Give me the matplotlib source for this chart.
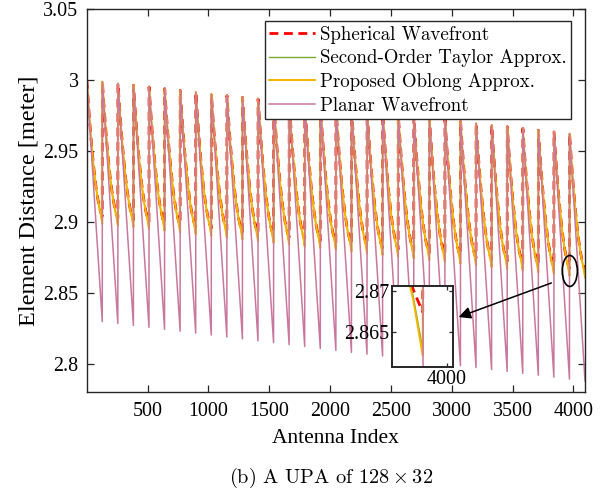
import matplotlib
matplotlib.use("Agg")
import matplotlib.pyplot as plt
from matplotlib.patches import Ellipse, FancyArrowPatch
from matplotlib.ticker import FuncFormatter

# ── Datos ────────────────────────────────────────────────────────────────
N_FILAS = 128      # elementos por columna (un diente de sierra)
N_COLUMNAS = 32

# distancia en el primer elemento de cada columna (picos)
picos = [3.0000, 2.9988, 2.9976, 2.9963, 2.9951, 2.9939, 2.9927, 2.9915,
         2.9902, 2.9890, 2.9878, 2.9866, 2.9854, 2.9841, 2.9829, 2.9817,
         2.9805, 2.9793, 2.9780, 2.9768, 2.9756, 2.9744, 2.9732, 2.9719,
         2.9707, 2.9695, 2.9683, 2.9671, 2.9658, 2.9646, 2.9634, 2.9622]

# distancia esférica en el último elemento de cada columna
valles_esferico = [2.9040, 2.9028, 2.9016, 2.9003, 2.8991, 2.8979, 2.8967, 2.8955,
                   2.8942, 2.8930, 2.8918, 2.8906, 2.8894, 2.8881, 2.8869, 2.8857,
                   2.8845, 2.8833, 2.8820, 2.8808, 2.8796, 2.8784, 2.8772, 2.8759,
                   2.8747, 2.8735, 2.8723, 2.8711, 2.8698, 2.8686, 2.8674, 2.8662]

# frente plano: último elemento de cada columna
valles_planar = [2.8298, 2.8285, 2.8271, 2.8258, 2.8244, 2.8231, 2.8217, 2.8204,
                 2.8190, 2.8177, 2.8163, 2.8150, 2.8136, 2.8123, 2.8109, 2.8096,
                 2.8082, 2.8069, 2.8056, 2.8042, 2.8029, 2.8015, 2.8002, 2.7988,
                 2.7975, 2.7961, 2.7948, 2.7934, 2.7921, 2.7907, 2.7894, 2.7880]

# forma de un diente (posición relativa dentro de la columna y caída relativa)
perfil_t = [0.0, 0.1, 0.2, 0.3, 0.4, 0.5, 0.6, 0.7, 0.8, 0.9, 1.0]
perfil_caida = [0.0, 0.17, 0.324, 0.463, 0.587, 0.696, 0.788, 0.865, 0.926, 0.971, 1.0]

# error de las aproximaciones respecto al frente esférico
desvio_esferico = [0.0] * 11
desvio_taylor = [0, 0, 0, 0, 0, 0, 0.0001, 0.0002, 0.0004, 0.0008, 0.0045]
desvio_oblongo = [0, 0, 0, 0, 0, 0.0001, 0.0002, 0.0003, 0.0006, 0.0012, 0.0053]

# zona ampliada
ZOOM_X = (3927, 4008)
ZOOM_Y = (2.8607, 2.8706)

COLORES = {
    "esferico": "#FF0000",
    "taylor": "#77AC30",
    "oblongo": "#F5B400",
    "planar": "#C9789D",
}


def curva(desvio):
    xs, ys = [], []
    for k in range(N_COLUMNAS):
        ini = k * N_FILAS + 1
        for t, c, d in zip(perfil_t, perfil_caida, desvio):
            xs.append(ini + t * (N_FILAS - 1))
            ys.append(picos[k] + (valles_esferico[k] - picos[k]) * c - d)
    return xs, ys


def curva_planar():
    xs, ys = [], []
    for k in range(N_COLUMNAS):
        ini = k * N_FILAS + 1
        xs += [ini, ini + N_FILAS - 1]
        ys += [picos[k], valles_planar[k]]
    return xs, ys


def dibujar(ax):
    x, y = curva(desvio_esferico)
    l1, = ax.plot(x, y, color=COLORES["esferico"], lw=2.0, dashes=(3.2, 2.0),
                  label="Spherical Wavefront")
    x, y = curva(desvio_taylor)
    l2, = ax.plot(x, y, color=COLORES["taylor"], lw=1.0,
                  label="Second-Order Taylor Approx.")
    x, y = curva(desvio_oblongo)
    l3, = ax.plot(x, y, color=COLORES["oblongo"], lw=1.4,
                  label="Proposed Oblong Approx.")
    x, y = curva_planar()
    l4, = ax.plot(x, y, color=COLORES["planar"], lw=1.1,
                  label="Planar Wavefront")
    return [l1, l2, l3, l4]


def estilo_ejes(ax, size):
    for s in ax.spines.values():
        s.set_color("#262626")
        s.set_linewidth(1.0)
    ax.tick_params(direction="in", top=True, right=True, length=5,
                   width=0.9, color="#262626", labelsize=size)


plt.rcParams["font.family"] = ["Liberation Serif", "DejaVu Serif"]
plt.rcParams["mathtext.fontset"] = "cm"

fig = plt.figure(figsize=(6.07, 4.92), dpi=100)
ax = fig.add_axes([0.143, 0.2025, 0.8208, 0.7792])

lineas = dibujar(ax)
ax.set_xlim(1, 4096)
ax.set_ylim(2.78, 3.05)
ax.set_xticks(range(500, 4001, 500))
ax.set_yticks([2.8, 2.85, 2.9, 2.95, 3.0, 3.05])
ax.yaxis.set_major_formatter(FuncFormatter(lambda v, p: f"{v:g}"))
estilo_ejes(ax, 14.4)
ax.tick_params(axis="x", pad=7)
ax.tick_params(axis="y", pad=6)
ax.set_xlabel("Antenna Index", fontsize=15.5, labelpad=6)
ax.set_ylabel("Element Distance [meter]", fontsize=17.5, labelpad=3)

ley = ax.legend(handles=lineas, loc="upper right",
                bbox_to_anchor=(571 / 607, 1 - 21 / 492),
                bbox_transform=fig.transFigure, borderaxespad=0,
                fancybox=False, framealpha=1, edgecolor="#262626",
                prop={"family": "cmr10", "size": 13.6},
                handlelength=2.4, handletextpad=0.25, labelspacing=0.3,
                borderpad=0.25)
ley.get_frame().set_linewidth(1.0)

# elipse que marca la zona ampliada
ax.add_patch(Ellipse((3971, 2.8655), 124, 0.0218, fill=False,
                     edgecolor="k", lw=1.2, zorder=6))

# recuadro ampliado
axins = fig.add_axes([391.7 / 607, 1 - 367 / 492, 61.3 / 607, 81 / 492])
dibujar(axins)
axins.set_xlim(*ZOOM_X)
axins.set_ylim(*ZOOM_Y)
axins.set_xticks([4000])
axins.set_yticks([2.865, 2.87])
axins.yaxis.set_major_formatter(FuncFormatter(lambda v, p: f"{v:g}"))
estilo_ejes(axins, 14.4)
axins.tick_params(length=3, pad=2)
for s in axins.spines.values():
    s.set_linewidth(1.4)

flecha = FancyArrowPatch((554 / 607, 1 - 282 / 492), (456 / 607, 1 - 318 / 492),
                         transform=fig.transFigure, arrowstyle="-|>",
                         mutation_scale=18, color="k", lw=1.1)
fig.add_artist(flecha)

fig.text(0.545, 1 - 478 / 492, "(b) A UPA of $128 \\times 32$",
         ha="center", va="center", fontsize=14.6, family="cmr10")

fig.savefig("out.png", dpi=100)
plt.close(fig)
